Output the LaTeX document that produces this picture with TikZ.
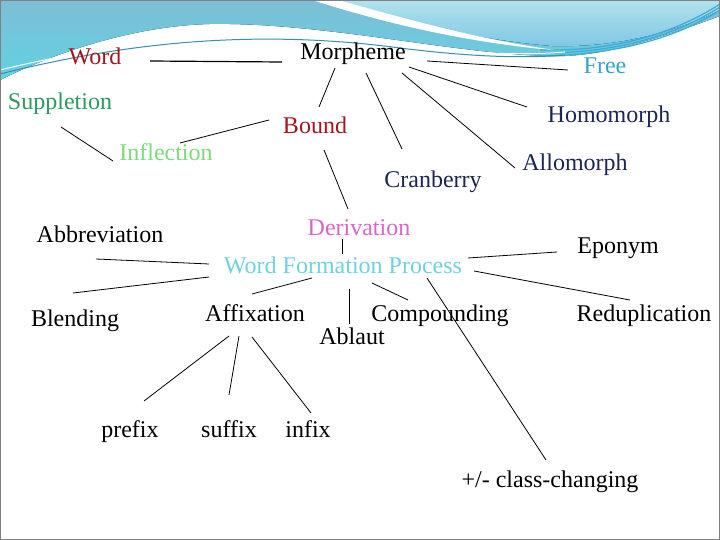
\documentclass[tikz,border=0pt]{standalone}
\usepackage{fontspec}
\setmainfont{Liberation Serif}

\definecolor{wordred}{HTML}{A3161E}
\definecolor{freeblue}{HTML}{38A4C4}
\definecolor{suppgreen}{HTML}{2E9A5E}
\definecolor{inflgreen}{HTML}{7ADC7A}
\definecolor{navy}{HTML}{1B2752}
\definecolor{derivpink}{HTML}{D866C8}
\definecolor{wfpcyan}{HTML}{6ED2E2}
\definecolor{skydark}{HTML}{7DBED6}
\definecolor{skycyan}{HTML}{62D2E2}
\definecolor{skylight}{HTML}{B2E2EC}
\definecolor{skymid}{HTML}{7EC6E6}
\definecolor{streak}{HTML}{3AAAD8}
\definecolor{waveline}{HTML}{3C8EAE}

\begin{document}
\begin{tikzpicture}[
  x=1pt, y=-1pt,
  term/.style={anchor=base, inner sep=0pt, font=\fontsize{24}{28}\selectfont},
  link/.style={black, line width=0.8pt}
]
\useasboundingbox (0,0) rectangle (720,540);

% Background
\fill[white] (0,0) rectangle (720,540);
\fill[top color=skydark, bottom color=skycyan] (0,0) -- (720,0) -- (720,16)
  .. controls (660,38) and (610,54) .. (565,56)
  .. controls (470,58) and (330,22) .. (210,24)
  .. controls (130,26) and (50,55) .. (0,80) -- cycle;
\fill[top color=skylight, bottom color=skymid] (322,0) .. controls (400,22) and (480,40) .. (552,46)
  .. controls (620,48) and (680,30) .. (720,10) -- (720,0) -- cycle;
\fill[white] (312,0) .. controls (400,28) and (480,44) .. (562,51)
  .. controls (480,40) and (410,20) .. (338,0) -- cycle;
\foreach \d in {0,3,6}
  \draw[streak, line width=1.2pt] (540,{50+\d}) .. controls (620,{52+\d/2}) and (680,{30+\d}) .. (720,{4+\d});
\draw[waveline, line width=1pt] (0,74) .. controls (120,44) and (250,28) .. (400,48)
  .. controls (480,58) and (530,58) .. (565,55);
\draw[white, line width=1pt] (0,70) .. controls (120,41) and (250,25) .. (400,45)
  .. controls (480,55) and (530,55) .. (565,52);
\draw[gray, line width=1.5pt] (0,0) rectangle (720,540);

% Terms
\node[term] (morph) at (353,60) {Morpheme};
\node[term, text=wordred] (word) at (95,65) {Word};
\node[term, text=freeblue] (free) at (605,74) {Free};
\node[term, text=suppgreen] (supp) at (60,110) {Suppletion};
\node[term, text=navy] (homo) at (609,123) {Homomorph};
\node[term, text=wordred] (bound) at (315,134) {Bound};
\node[term, text=inflgreen] (infl) at (166,161) {Inflection};
\node[term, text=navy] (allo) at (575,171) {Allomorph};
\node[term, text=navy] (cran) at (433,188) {Cranberry};
\node[term, text=derivpink] (deriv) at (359,236) {Derivation};
\node[term] (abbr) at (100,243) {Abbreviation};
\node[term, text=wfpcyan] (wfp) at (343,273) {Word Formation Process};
\node[term] (epon) at (618,254) {Eponym};
\node[term] (blend) at (75,326) {Blending};
\node[term] (affix) at (255,321) {Affixation};
\node[term] (comp) at (440,321) {Compounding};
\node[term] (redup) at (644,321) {Reduplication};
\node[term] (ablaut) at (352,344) {Ablaut};
\node[term] (prefix) at (130,437) {prefix};
\node[term] (suffix) at (229,437) {suffix};
\node[term] (infix) at (308,437) {infix};
\node[term] (class) at (550,487) {+/- class-changing};

% Links
\draw[link, line width=1.2pt] ([shift={(55,-4)}]word.base) -- ([shift={(-71,2)}]morph.base);
\draw[link] ([shift={(74,1)}]morph.base) -- ([shift={(-37,-4)}]free.base);
\draw[link] ([shift={(56,7)}]morph.base) -- ([shift={(-82,-16)}]homo.base);
\draw[link] ([shift={(49,13)}]morph.base) -- ([shift={(-60,-3)}]allo.base);
\draw[link] ([shift={(13,13)}]morph.base) -- ([shift={(-31,-39)}]cran.base);
\draw[link] ([shift={(-18,8)}]morph.base) -- ([shift={(4,-27)}]bound.base);
\draw[link] ([shift={(-46,-14)}]bound.base) -- ([shift={(14,-18)}]infl.base);
\draw[link] ([shift={(1,17)}]supp.base) -- ([shift={(-53,0)}]infl.base);
\draw[link] ([shift={(9,16)}]bound.base) -- ([shift={(-11,-27)}]deriv.base);
\draw[link] ([shift={(-17,3)}]deriv.base) -- ([shift={(-1,-19)}]wfp.base);
\draw[link] ([shift={(-134,-9)}]wfp.base) -- ([shift={(-4,16)}]abbr.base);
\draw[link] ([shift={(-134,4)}]wfp.base) -- ([shift={(-2,-33)}]blend.base);
\draw[link] ([shift={(-31,5)}]wfp.base) -- ([shift={(-3,-27)}]affix.base);
\draw[link] ([shift={(6,16)}]wfp.base) -- ([shift={(-3,-20)}]ablaut.base);
\draw[link] ([shift={(29,10)}]wfp.base) -- ([shift={(-32,-21)}]comp.base);
\draw[link] ([shift={(125,-15)}]wfp.base) -- ([shift={(-61,-2)}]epon.base);
\draw[link] ([shift={(131,-2)}]wfp.base) -- ([shift={(-14,-21)}]redup.base);
\draw[link] ([shift={(84,5)}]wfp.base) -- ([shift={(-4,-27)}]class.base);
\draw[link] ([shift={(-26,15)}]affix.base) -- ([shift={(14,-36)}]prefix.base);
\draw[link] ([shift={(-16,15)}]affix.base) -- ([shift={(0,-42)}]suffix.base);
\draw[link] ([shift={(-3,16)}]affix.base) -- ([shift={(3,-24)}]infix.base);

\end{tikzpicture}
\end{document}
